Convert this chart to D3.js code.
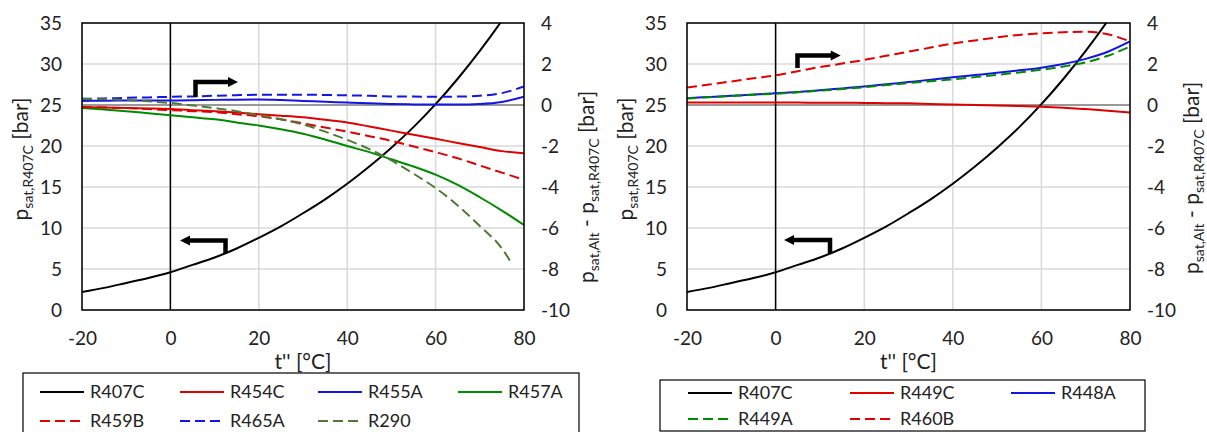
<!DOCTYPE html>
<html>
<head>
<meta charset="utf-8">
<script src="https://cdn.jsdelivr.net/npm/d3@7"></script>
<style>
  body { margin: 0; background: #fff; }
  text { font-family: Lato, sans-serif; fill: #222; }
</style>
</head>
<body>
<div id="chart"></div>
<script>
let temps = [-20, -15, -10, -5, 0, 5, 10, 15, 20, 25, 30, 35, 40, 45, 50, 55, 60, 65, 70, 75, 80]
let tempsR290 = [-20, -15, -10, -5, 0, 5, 10, 15, 20, 25, 30, 35, 40, 45, 50, 55, 60, 65, 70, 75, 77]

let xTicks = [-20, 0, 20, 40, 60, 80]
let yLeftTicks = [0, 5, 10, 15, 20, 25, 30, 35]
let yRightTicks = [-10, -8, -6, -4, -2, 0, 2, 4]

// absolute pressure, left axis
let r407c = [2.2, 2.7, 3.3, 3.9, 4.6, 5.5, 6.4, 7.5, 8.8, 10.2, 11.8, 13.5, 15.4, 17.5, 19.8, 22.3, 25.1, 28.2, 31.6, 35.3, 39.4]

// differences to R407C, right axis
let r454c = [-0.1, -0.12, -0.15, -0.17, -0.2, -0.25, -0.3, -0.37, -0.45, -0.52, -0.6, -0.72, -0.85, -1.05, -1.25, -1.45, -1.65, -1.85, -2.05, -2.25, -2.35]
let r455a = [0.2, 0.21, 0.22, 0.22, 0.22, 0.23, 0.25, 0.26, 0.27, 0.24, 0.2, 0.16, 0.12, 0.08, 0.05, 0.03, 0.02, 0.02, 0.05, 0.15, 0.4]
let r457a = [-0.15, -0.22, -0.3, -0.4, -0.5, -0.6, -0.7, -0.85, -1.0, -1.18, -1.4, -1.68, -2.0, -2.3, -2.65, -3.0, -3.4, -3.9, -4.5, -5.15, -5.85]
let r459b = [-0.1, -0.12, -0.15, -0.2, -0.25, -0.3, -0.35, -0.45, -0.55, -0.7, -0.9, -1.1, -1.3, -1.52, -1.75, -2.02, -2.3, -2.6, -2.95, -3.3, -3.65]
let r465a = [0.3, 0.32, 0.35, 0.37, 0.4, 0.42, 0.45, 0.48, 0.5, 0.5, 0.5, 0.49, 0.47, 0.45, 0.42, 0.41, 0.4, 0.41, 0.45, 0.58, 0.9]
let r290 = [0.3, 0.28, 0.25, 0.18, 0.1, -0.02, -0.15, -0.3, -0.5, -0.7, -0.95, -1.3, -1.7, -2.15, -2.7, -3.35, -4.05, -4.9, -5.9, -7.0, -7.65]

let r449c = [0.12, 0.12, 0.12, 0.12, 0.12, 0.12, 0.11, 0.11, 0.1, 0.09, 0.08, 0.05, 0.02, 0, -0.03, -0.05, -0.08, -0.13, -0.2, -0.28, -0.37]
let r448a = [0.33, 0.39, 0.45, 0.51, 0.57, 0.64, 0.72, 0.81, 0.9, 1.01, 1.12, 1.23, 1.35, 1.46, 1.57, 1.69, 1.82, 2.0, 2.25, 2.6, 3.1]
let r449a = [0.32, 0.38, 0.44, 0.5, 0.55, 0.62, 0.7, 0.78, 0.87, 0.97, 1.07, 1.16, 1.25, 1.36, 1.47, 1.59, 1.72, 1.88, 2.08, 2.4, 2.85]
let r460b = [0.85, 1.0, 1.15, 1.3, 1.45, 1.65, 1.85, 2.02, 2.2, 2.4, 2.6, 2.8, 3.0, 3.15, 3.3, 3.42, 3.5, 3.55, 3.57, 3.45, 3.1]

let red = '#e00000'
let blue = '#1414e6'
let green = '#008a00'
let olive = '#4f7a36'
let dash = '10,5'

let leftSeries = [
  { name: 'R407C', t: temps, v: r407c, axis: 'left', color: '#000', dash: null },
  { name: 'R454C', t: temps, v: r454c, axis: 'right', color: red, dash: null },
  { name: 'R455A', t: temps, v: r455a, axis: 'right', color: blue, dash: null },
  { name: 'R457A', t: temps, v: r457a, axis: 'right', color: green, dash: null },
  { name: 'R459B', t: temps, v: r459b, axis: 'right', color: red, dash: dash },
  { name: 'R465A', t: temps, v: r465a, axis: 'right', color: blue, dash: dash },
  { name: 'R290', t: tempsR290, v: r290, axis: 'right', color: olive, dash: dash }
]

let rightSeries = [
  { name: 'R407C', t: temps, v: r407c, axis: 'left', color: '#000', dash: null },
  { name: 'R449C', t: temps, v: r449c, axis: 'right', color: red, dash: null },
  { name: 'R448A', t: temps, v: r448a, axis: 'right', color: blue, dash: null },
  { name: 'R449A', t: temps, v: r449a, axis: 'right', color: green, dash: dash },
  { name: 'R460B', t: temps, v: r460b, axis: 'right', color: red, dash: dash }
]

let panels = [
  {
    id: 'a', left: 82, right: 524, series: leftSeries,
    yTitleX: 28, yTitleY: 159, y2TitleX: 594, y2TitleY: 187,
    arrowRight: { t: 5.68, p0: 25.98, p1: 27.8, tip: 15.3 },
    arrowLeft: { t: 12.47, p0: 6.95, p1: 8.48, tip: 2.17 },
    legend: { x: 23, y: 373, w: 556, h: 80, cols: [40, 180, 318, 458], rows: [392, 421] }
  },
  {
    id: 'b', left: 687, right: 1130, series: rightSeries,
    yTitleX: 633, yTitleY: 159, y2TitleX: 1199, y2TitleY: 178,
    arrowRight: { t: 4.94, p0: 29.5, p1: 31.04, tip: 14.7 },
    arrowLeft: { t: 12.28, p0: 6.95, p1: 8.54, tip: 1.9 },
    legend: { x: 660, y: 380, w: 485, h: 51, cols: [688, 850, 1011], rows: [393, 419] }
  }
]

let plotTop = 23
let plotBottom = 310

let svg = d3
  .select('#chart')
  .append('svg')
  .attr('width', 1207)
  .attr('height', 432)

panels.forEach(drawPanel)

function drawPanel(p) {
  let x = d3.scaleLinear().domain([-20, 80]).range([p.left, p.right])
  let yL = d3.scaleLinear().domain([0, 35]).range([plotBottom, plotTop])
  let yR = d3.scaleLinear().domain([-10, 4]).range([plotBottom, plotTop])

  let g = svg.append('g')

  g.append('clipPath')
    .attr('id', 'clip-' + p.id)
    .append('rect')
    .attr('x', p.left)
    .attr('y', plotTop)
    .attr('width', p.right - p.left)
    .attr('height', plotBottom - plotTop)

  // grid
  g.selectAll('.vgrid')
    .data(xTicks)
    .enter()
    .append('line')
    .attr('x1', d => x(d))
    .attr('x2', d => x(d))
    .attr('y1', plotTop)
    .attr('y2', plotBottom)
    .attr('stroke', '#d9d9d9')
    .attr('stroke-width', 1.5)

  g.selectAll('.hgrid')
    .data(yLeftTicks)
    .enter()
    .append('line')
    .attr('x1', p.left)
    .attr('x2', p.right)
    .attr('y1', d => yL(d))
    .attr('y2', d => yL(d))
    .attr('stroke', '#d9d9d9')
    .attr('stroke-width', 1.5)

  g.append('line')
    .attr('x1', p.left)
    .attr('x2', p.right)
    .attr('y1', yR(0))
    .attr('y2', yR(0))
    .attr('stroke', '#808080')
    .attr('stroke-width', 1.5)

  g.append('line')
    .attr('x1', x(0))
    .attr('x2', x(0))
    .attr('y1', plotTop)
    .attr('y2', plotBottom)
    .attr('stroke', '#000')
    .attr('stroke-width', 1.5)

  // series
  let lines = g.append('g').attr('clip-path', `url(#clip-${p.id})`)
  p.series.forEach(s => {
    let y = s.axis === 'left' ? yL : yR
    let line = d3
      .line()
      .x(d => x(d[0]))
      .y(d => y(d[1]))
      .curve(d3.curveMonotoneX)
    lines
      .append('path')
      .datum(s.t.map((t, i) => [t, s.v[i]]))
      .attr('d', line)
      .attr('fill', 'none')
      .attr('stroke', s.color)
      .attr('stroke-width', 2)
      .attr('stroke-dasharray', s.dash)
  })

  g.append('rect')
    .attr('x', p.left)
    .attr('y', plotTop)
    .attr('width', p.right - p.left)
    .attr('height', plotBottom - plotTop)
    .attr('fill', 'none')
    .attr('stroke', '#000')
    .attr('stroke-width', 1.5)

  // axes
  let fmt = d => String(d)
  let axes = [
    g.append('g')
      .attr('transform', `translate(0,${plotBottom})`)
      .call(d3.axisBottom(x).tickValues(xTicks).tickSize(0).tickPadding(22).tickFormat(fmt)),
    g.append('g')
      .attr('transform', `translate(${p.left},0)`)
      .call(d3.axisLeft(yL).tickValues(yLeftTicks).tickSize(0).tickPadding(20).tickFormat(fmt)),
    g.append('g')
      .attr('transform', `translate(${p.right},0)`)
      .call(d3.axisRight(yR).tickValues(yRightTicks).tickSize(0).tickPadding(17).tickFormat(fmt))
  ]
  axes.forEach(a => {
    a.select('.domain').remove()
    a.attr('font-family', null).attr('font-size', 19)
    a.selectAll('text').attr('fill', '#222')
  })

  // titles
  g.append('text')
    .attr('x', (p.left + p.right) / 2)
    .attr('y', 369)
    .attr('text-anchor', 'middle')
    .attr('font-size', 21)
    .text("t'' [°C]")

  let yt = g.append('text')
    .attr('transform', `translate(${p.yTitleX},${p.yTitleY}) rotate(-90)`)
    .attr('text-anchor', 'middle')
    .attr('font-size', 21)
  yt.append('tspan').text('p')
  yt.append('tspan').attr('font-size', 14).attr('dy', 5).text('sat,R407C')
  yt.append('tspan').attr('dy', -5).text(' [bar]')

  let y2t = g.append('text')
    .attr('transform', `translate(${p.y2TitleX},${p.y2TitleY}) rotate(-90)`)
    .attr('text-anchor', 'middle')
    .attr('font-size', 21)
  y2t.append('tspan').text('p')
  y2t.append('tspan').attr('font-size', 14).attr('dy', 5).text('sat,Alt')
  y2t.append('tspan').attr('dy', -5).text(' - p')
  y2t.append('tspan').attr('font-size', 14).attr('dy', 5).text('sat,R407C')
  y2t.append('tspan').attr('dy', -5).text(' [bar]')

  // arrows
  let ar = p.arrowRight
  g.append('path')
    .attr('d', `M${x(ar.t)},${yL(ar.p0)}V${yL(ar.p1)}H${x(ar.tip) - 8}`)
    .attr('fill', 'none')
    .attr('stroke', '#000')
    .attr('stroke-width', 4.5)
  g.append('path')
    .attr('d', `M${x(ar.tip)},${yL(ar.p1)}l-10,-5v10z`)
    .attr('fill', '#000')

  let al = p.arrowLeft
  g.append('path')
    .attr('d', `M${x(al.t)},${yL(al.p0)}V${yL(al.p1)}H${x(al.tip) + 8}`)
    .attr('fill', 'none')
    .attr('stroke', '#000')
    .attr('stroke-width', 4.5)
  g.append('path')
    .attr('d', `M${x(al.tip)},${yL(al.p1)}l10,-5v10z`)
    .attr('fill', '#000')

  // make the legend
  let lg = p.legend
  g.append('rect')
    .attr('x', lg.x)
    .attr('y', lg.y)
    .attr('width', lg.w)
    .attr('height', lg.h)
    .attr('fill', '#fff')
    .attr('stroke', '#000')
    .attr('stroke-width', 1.2)

  g.selectAll('.legend-entry')
    .data(p.series)
    .enter()
    .append('g')
    .attr('class', 'legend-entry')
    .attr('transform', (d, i) => {
      let n = lg.cols.length
      return `translate(${lg.cols[i % n]},${lg.rows[Math.floor(i / n)]})`
    })
    .each(function(d) {
      let e = d3.select(this)
      e.append('line')
        .attr('x1', 0)
        .attr('x2', 44)
        .attr('stroke', d.color)
        .attr('stroke-width', 2)
        .attr('stroke-dasharray', d.dash)
      e.append('text')
        .attr('x', 50)
        .attr('dy', '0.35em')
        .attr('font-size', 18)
        .text(d.name)
    })
}
</script>
</body>
</html>
